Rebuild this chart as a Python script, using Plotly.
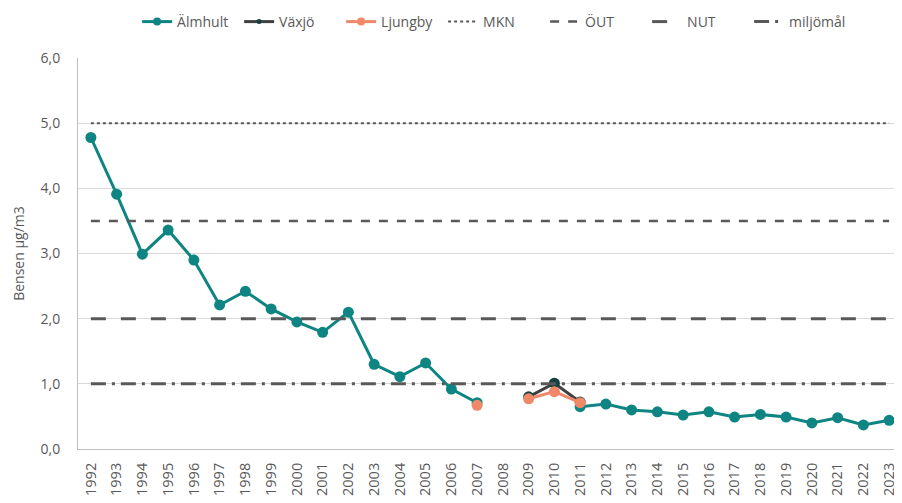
import plotly.graph_objects as go

years = list(range(1992, 2024))
almhult = [4.78, 3.91, 2.99, 3.36, 2.90, 2.21, 2.42, 2.15, 1.95, 1.79, 2.10, 1.30, 1.11, 1.32, 0.92, 0.71,
           None, None, None, 0.65, 0.69, 0.60, 0.57, 0.52, 0.57, 0.49, 0.53, 0.49, 0.40, 0.48, 0.37, 0.44]
vaxjo_years = [2009, 2010, 2011]
vaxjo = [0.80, 1.01, 0.72]
ljungby_years = [2007, 2008, 2009, 2010, 2011]
ljungby = [0.67, None, 0.77, 0.88, 0.71]

limits = {"MKN": 5.0, "ÖUT": 3.5, "NUT": 2.0, "miljömål": 1.0}
limit_dash = {"MKN": "dot", "ÖUT": "dash", "NUT": "longdash", "miljömål": "longdashdot"}
limit_width = {"MKN": 2, "ÖUT": 2.5, "NUT": 3, "miljömål": 3}

teal = "#0E8582"
orange = "#F0896A"
grey = "#595959"

series = [
    ("Älmhult", years, almhult, teal, teal, 8),
    ("Växjö", vaxjo_years, vaxjo, "#404040", "#14403F", 5),
    ("Ljungby", ljungby_years, ljungby, orange, orange, 8),
]

fig = go.Figure()
for name, xs, ys, lc, mc, legsize in series:
    fig.add_trace(go.Scatter(x=xs, y=ys, name=name, mode="lines+markers",
                             line=dict(color=lc, width=3), marker=dict(size=11, color=mc),
                             connectgaps=False, showlegend=False, legendgroup=name))
for name, xs, ys, lc, mc, legsize in series:
    # legend-only entry with the smaller legend marker
    fig.add_trace(go.Scatter(x=[None], y=[None], name=name, mode="lines+markers",
                             line=dict(color=lc, width=3), marker=dict(size=legsize, color=mc),
                             legendgroup=name))
for name, val in limits.items():
    fig.add_trace(go.Scatter(x=[years[0], years[-1]], y=[val, val], name=name, mode="lines",
                             line=dict(color=grey, width=limit_width[name], dash=limit_dash[name]),
                             hoverinfo="skip"))

font_family = "Open Sans, Noto Sans, sans-serif"
W, H = 894, 495
fig.update_layout(
    width=W, height=H,
    margin=dict(l=70, r=0, t=50, b=54),
    paper_bgcolor="white", plot_bgcolor="white",
    separators=", ",
    font=dict(family=font_family, color=grey, size=13),
    showlegend=True,
    legend=dict(orientation="h", x=0.505, xanchor="center", y=1 - 14 / H, yanchor="middle",
                yref="container", font=dict(size=14, color=grey), itemwidth=30,
                entrywidth=57, traceorder="normal"),
    xaxis=dict(range=[1991.5, 2023.5], tickmode="linear", tick0=1992, dtick=1,
               tickangle=-90, showgrid=False, showline=True, linecolor="#BFBFBF", linewidth=1,
               tickfont=dict(size=14.5, color=grey), ticks="", zeroline=False, automargin=False,
               ticklabelstandoff=7),
    yaxis=dict(range=[0, 6], dtick=1, tickformat=".1f", showgrid=True, gridcolor="#D9D9D9",
               showline=True, linecolor="#BFBFBF", zeroline=False, ticks="", automargin=False,
               tickfont=dict(size=14, color=grey), ticklabelstandoff=14,
               title=dict(text="Bensen µg/m3", font=dict(size=14, color=grey), standoff=12)),
)
fig.write_html("out.html")
